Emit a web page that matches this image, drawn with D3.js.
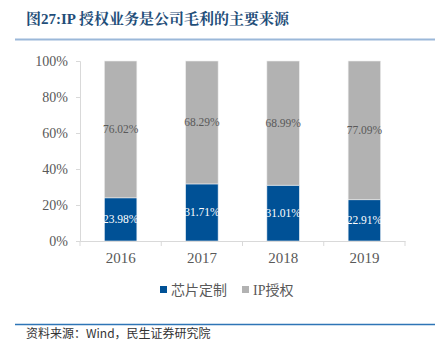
<!DOCTYPE html>
<html><head><meta charset="utf-8">
<script src="https://cdn.jsdelivr.net/npm/d3@7"></script>
<style>body{margin:0;background:#fff}svg{display:block}</style>
</head><body>
<svg id="c" width="435" height="344"></svg>
<script>
const categories = ["2016", "2017", "2018", "2019"];
const chipCustom = [23.98, 31.71, 31.01, 22.91];
const ipLicense = [76.02, 68.29, 68.99, 77.09];
const yTicks = [0, 20, 40, 60, 80, 100];
const seriesNames = ["芯片定制", "IP授权"];
const colors = ["#005196", "#b2b2b2"];

const svg = d3.select("#c");
const serif = "'Liberation Serif','DejaVu Serif',serif";
const cjk = "'Noto Sans CJK SC',sans-serif";

// title
svg.append("text").attr("x", 26).attr("y", 24)
  .attr("font-family", "'Liberation Serif','Noto Serif CJK SC','Noto Sans CJK SC',serif")
  .attr("font-weight", "bold").attr("font-size", 15).attr("fill", "#1f4e79")
  .text("图27:IP 授权业务是公司毛利的主要来源");
svg.append("line").attr("x1", 15).attr("x2", 435).attr("y1", 39.5).attr("y2", 39.5)
  .attr("stroke", "#9bb8d9").attr("stroke-width", 2);

const x = d3.scaleBand().domain(categories).range([80, 405]).paddingInner(0.6).paddingOuter(0.3);
const y = d3.scaleLinear().domain([0, 100]).range([241, 61]);

// y axis
const yAxis = d3.axisLeft(y).tickValues(yTicks).tickFormat(d => d + "%").tickSize(4).tickPadding(8);
const gy = svg.append("g").attr("transform", "translate(80,0)").call(yAxis);
gy.select(".domain").attr("stroke", "#d9d9d9");
gy.selectAll(".tick line").attr("stroke", "#d9d9d9");
gy.selectAll(".tick text").attr("font-family", serif).attr("font-size", 14).attr("fill", "#595959");

// bars
const data = categories.map((c, i) => ({c, a: chipCustom[i], b: ipLicense[i]}));
const g = svg.append("g");
data.forEach(d => {
  g.append("rect").attr("x", x(d.c)).attr("width", x.bandwidth())
    .attr("y", y(d.a)).attr("height", y(0) - y(d.a))
    .attr("fill", colors[0]).attr("stroke", "#e8eef5").attr("stroke-width", 0.6);
  g.append("rect").attr("x", x(d.c)).attr("width", x.bandwidth())
    .attr("y", y(d.a + d.b)).attr("height", y(d.a) - y(d.a + d.b))
    .attr("fill", colors[1]).attr("stroke", "#eeeeee").attr("stroke-width", 0.6);
  const cx = x(d.c) + x.bandwidth() / 2;
  g.append("text").attr("x", cx).attr("y", (y(0) + y(d.a)) / 2).attr("dy", "0.35em")
    .attr("text-anchor", "middle").attr("font-family", serif).attr("font-size", 11.5)
    .attr("fill", "#ffffff").text(d.a.toFixed(2) + "%");
  g.append("text").attr("x", cx).attr("y", (y(d.a) + y(d.a + d.b)) / 2).attr("dy", "0.35em")
    .attr("text-anchor", "middle").attr("font-family", serif).attr("font-size", 11.5)
    .attr("fill", "#595959").text(d.b.toFixed(2) + "%");
});

// x axis
const xAxis = d3.axisBottom(x).tickSize(0).tickPadding(11);
const gx = svg.append("g").attr("transform", "translate(0,241)").call(xAxis);
gx.select(".domain").attr("stroke", "#d9d9d9");
gx.selectAll(".tick text").attr("font-family", serif).attr("font-size", 15).attr("fill", "#595959");
// boundary ticks
const step = x.step();
const bounds = d3.range(categories.length + 1).map(i => 80 + i * (405 - 80) / categories.length);
gx.selectAll(".bt").data(bounds).enter().append("line")
  .attr("x1", d => d).attr("x2", d => d).attr("y1", 0).attr("y2", 5)
  .attr("stroke", "#d9d9d9");

// legend
const lg = svg.append("g");
const lx = [160, 242];
seriesNames.forEach((n, i) => {
  lg.append("rect").attr("x", lx[i]).attr("y", 286).attr("width", 7).attr("height", 7).attr("fill", colors[i]);
  lg.append("text").attr("x", lx[i] + 11).attr("y", 290).attr("dy", "0.35em")
    .attr("font-family", i === 0 ? cjk : serif + ",'Noto Sans CJK SC'").attr("font-size", 14).attr("fill", "#595959")
    .text(n);
});

// footer
svg.append("line").attr("x1", 15).attr("x2", 435).attr("y1", 324.5).attr("y2", 324.5)
  .attr("stroke", "#2e75b6").attr("stroke-width", 1.5);
svg.append("text").attr("x", 26).attr("y", 334).attr("dy", "0.35em")
  .attr("font-family", "'Noto Sans CJK SC','DejaVu Sans Mono',monospace").attr("font-size", 12).attr("fill", "#333")
  .text("资料来源：Wind，民生证券研究院");
</script>
</body></html>
